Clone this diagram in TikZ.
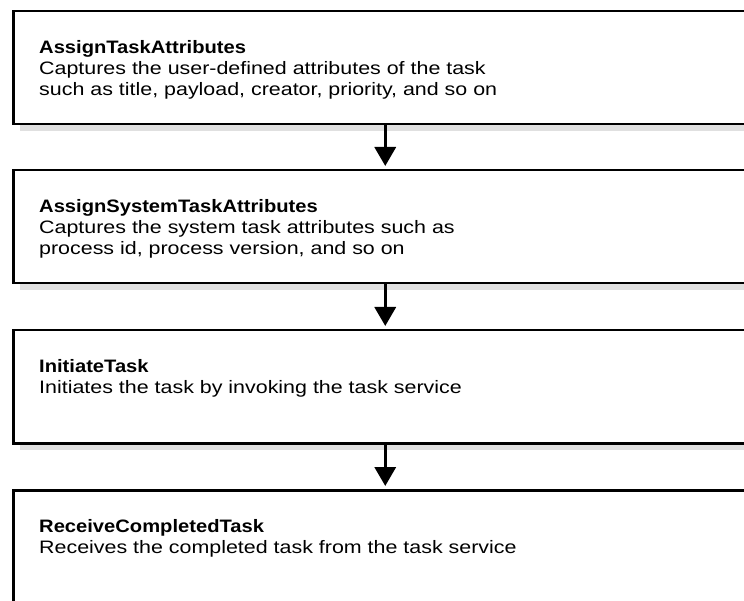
\documentclass[tikz,border=0pt]{standalone}
\usepackage{fontspec}
\setmainfont{Liberation Sans}[FakeStretch=1.19,BoldFeatures={FakeStretch=1.12}]
\usetikzlibrary{arrows.meta,positioning}
\begin{document}
\begin{tikzpicture}[font=\fontsize{18}{21}\selectfont,>={Triangle[width=21pt,length=19pt]},x=1pt,y=-1pt]
    \tikzset{
        taskbox/.style={draw,line width=2.5pt,minimum width=760pt,anchor=north west,inner sep=0pt},
        shade/.style={fill=black!12,draw=none},
        flow/.style={->,line width=3.5pt,shorten >=3pt},
        blurb/.style={anchor=north west,align=left,inner sep=0pt}
    }
    \useasboundingbox (0,0) rectangle (744,601);

    % one box per step: top edge, height, name, heading, description
    \foreach \y/\h/\name/\heading/\desc in {
        10/113/assign/{AssignTaskAttributes}/{Captures the user-defined attributes of the task\\such as title, payload, creator, priority, and so on},
        169/113/system/{AssignSystemTaskAttributes}/{Captures the system task attributes such as\\process id, process version, and so on},
        329/113/initiate/{InitiateTask}/{Initiates the task by invoking the task service},
        489/140/receive/{ReceiveCompletedTask}/{Receives the completed task from the task service}}{
        \fill[shade] (20,\y+114) rectangle (760,\y+121);
        \node[taskbox,minimum height=\h pt] (\name) at (12,\y) {};
        \node[blurb] at (39,\y+30) {\textbf{\heading}\\\desc};
    }

    \foreach \from/\to in {assign/system,system/initiate,initiate/receive}
        \draw[flow] ([xshift=-8pt]\from.south) -- ([xshift=-8pt]\to.north);
\end{tikzpicture}
\end{document}
